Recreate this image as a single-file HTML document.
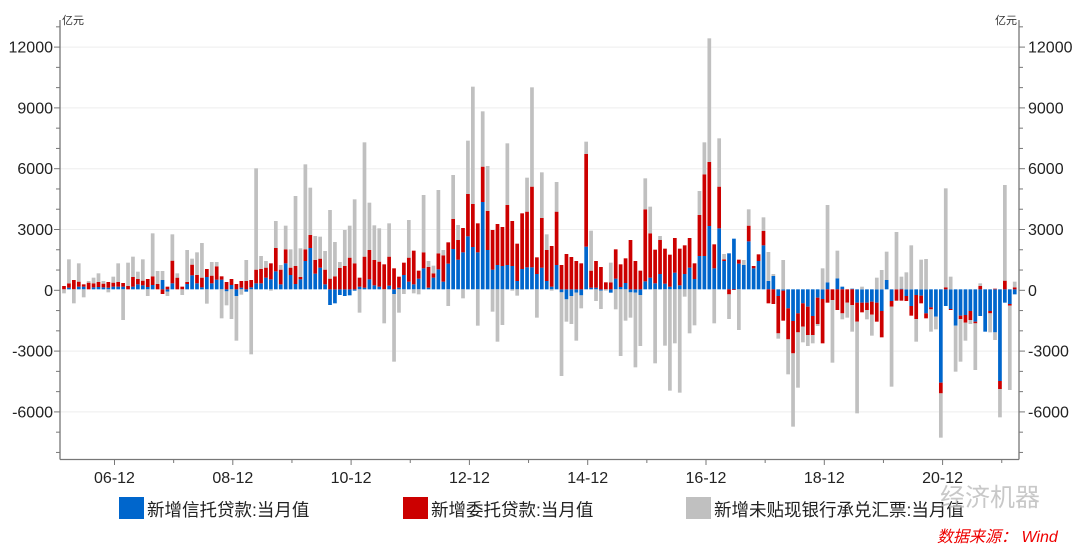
<!DOCTYPE html>
<html><head><meta charset="utf-8"><style>
html,body{margin:0;padding:0;background:#fff;}
svg{display:block;font-family:"Liberation Sans","Noto Sans CJK SC",sans-serif;}
</style></head><body>
<svg id="c" width="1080" height="545" viewBox="0 0 1080 545" xmlns="http://www.w3.org/2000/svg">
<g id="grid"></g><g id="bars"></g><g id="axes"></g>
<text x="62" y="24" font-size="11" fill="#333">亿元</text>
<text x="995" y="24" font-size="11" fill="#333">亿元</text>
<rect x="119" y="497" width="25" height="22" fill="#0066cc"/>
<text x="147" y="516" font-size="17.5" fill="#222">新增信托贷款:当月值</text>
<rect x="403" y="497" width="25" height="22" fill="#cc0000"/>
<text x="431" y="516" font-size="17.5" fill="#222">新增委托贷款:当月值</text>
<rect x="686" y="497" width="25" height="22" fill="#c0c0c0"/>
<text x="714" y="516" font-size="17.5" fill="#222">新增未贴现银行承兑汇票:当月值</text>
<text x="940" y="506" font-size="25" fill="#bbb" opacity="0.8">经济机器</text>
<text x="937" y="542" font-size="16" fill="#e00" font-style="italic">数据来源： Wind</text>
</svg>
<script>
var D=[[808,798,820],[803,790,718],[808,780,850],[800,785,730],[800,793,832],[808,788,783],[802,790,773],[801,786,760],[802,791,783],[803,786,817],[800,788,770],[800,786,730],[800,789,900],[808,798,728],[800,771,710],[793,777,755],[796,782,718],[801,777,828],[795,769,640],[808,792,753],[780,822,753],[815,800,828],[790,722,643],[808,773,760],[808,800,825],[792,786,690],[766,734,716],[790,765,697],[802,773,669],[771,747,851],[790,767,726],[779,739,726],[779,769,895],[814,786,856],[795,777,897],[828,792,962],[803,783,824],[815,783,720],[802,780,1003],[790,749,445],[790,747,708],[773,743,723],[778,730,812],[754,684,603],[793,749,735],[730,688,617],[765,743,688],[792,738,528],[778,771,685],[723,688,433],[684,645,503],[761,720,648],[743,716,650],[793,749,693],[855,776,570],[850,769,666],[825,744,726],[828,738,630],[826,713,617],[812,730,538],[800,773,878],[803,710,367],[778,690,548],[796,720,616],[800,725,625],[808,733,910],
[797,710,610],[822,745,1025],[803,770,878],[765,728,822],[785,713,600],[793,692,820],[776,752,823],[745,697,525],[803,741,723],[773,760,737],[748,700,510],[785,706,690],[731,667,858],[687,597,465],[719,660,615],[697,624,835],[649,522,362],[681,552,200],[697,610,917],[546,440,274],[690,573,438],[749,630,875],[735,612,965],[738,621,915],[735,555,370],[738,603,812],[783,671,827],[747,580,810],[742,575,473],[742,500,202],[762,712,893],[743,594,457],[783,690,643],[800,678,812],[735,575,486],[817,735,1068],[838,702,905],[828,711,912],[818,723,962],[826,730,865],[680,402,365],[803,752,632],[803,723,843],[812,741,867],[808,787,812],[818,787,728],[776,688,868],[801,733,1008],[789,715,902],[817,660,893],[818,723,1042],[825,752,978],[784,568,475],[773,640,560],[790,689,1030],[762,660,648],[791,686,977],[800,704,1112],[758,654,970],[796,686,1118],[762,676,830],[743,654,940],[777,730,916],[708,585,513],[708,463,367],[618,426,55],
[745,673,910],[625,500,355],[723,718,702],[700,823,897],[656,810,656],[731,719,930],[735,808,720],[664,617,568],[745,738,745],[723,703,703],[676,633,592],[783,850,696],[768,852,762],[828,940,956],[812,902,720],[865,958,1063],[903,1000,1220],[880,937,1103],[850,920,967],[860,945,978],[888,945,970],[833,912,918],[837,970,745],[787,848,555],[808,840,1028],[775,870,692],[800,880,898],[808,848,893],[806,855,935],[848,905,1180],[848,877,800],[848,870,898],[845,884,947],[848,905,773],[873,952,750],[780,780,695],[843,860,1100],[808,842,636],[806,842,770],[828,843,757],[858,887,676],[825,897,965],[827,850,719],[880,895,717],[862,868,935],[890,890,928],[1088,1120,1253],[858,802,505],[867,870,770],[917,917,1055],[887,897,1025],[885,908,962],[873,900,912],[905,910,1050],[888,798,790],[935,935,935],[873,880,937],[937,806,960],[1083,1107,1192],[848,782,495],[852,857,1110],[823,802,785]];
var NS="http://www.w3.org/2000/svg";
function el(p,t,a,txt){var e=document.createElementNS(NS,t);for(var k in a)e.setAttribute(k,a[k]);if(txt)e.textContent=txt;document.getElementById(p).appendChild(e);}
function Y(v){return 290.3-v*0.020267;}
[12000,9000,6000,3000,-3000,-6000].forEach(function(v){el('grid','line',{x1:60,x2:1019,y1:Y(v),y2:Y(v),stroke:'#eeeeee','stroke-width':1});});
var cols=['#0066cc','#cc0000','#c0c0c0'];
D.forEach(function(d,i){var x=64+i*4.926-1.85;var pt=808,nb=808;
 for(var j=0;j<3;j++){var e=d[j];
  if(e<808){if(e<pt){el('bars','rect',{x:x,y:20+e/3,width:3.7,height:(pt-e)/3,fill:cols[j]});pt=e;}}
  else if(e>808){if(e>nb){el('bars','rect',{x:x,y:20+nb/3,width:3.7,height:(e-nb)/3,fill:cols[j]});nb=e;}}
 }});
el('axes','line',{x1:60,x2:60,y1:20,y2:459.5,stroke:'#777','stroke-width':1.3});
el('axes','line',{x1:1019,x2:1019,y1:20,y2:459.5,stroke:'#777','stroke-width':1.3});
el('axes','line',{x1:60,x2:1019,y1:459.5,y2:459.5,stroke:'#777','stroke-width':1.3});
for(var v=-8000;v<=13000;v+=1000){var y=Y(v);if(y<22||y>458)continue;var big=(v%3000==0);
 el('axes','line',{x1:big?54:56,x2:60,y1:y,y2:y,stroke:'#777','stroke-width':1});
 el('axes','line',{x1:1019,x2:big?1025:1023,y1:y,y2:y,stroke:'#777','stroke-width':1});
 if(big){el('axes','text',{x:53,y:y+5.5,'font-size':16,'text-anchor':'end',fill:'#222'},String(v));
  el('axes','text',{x:1028,y:y+5.5,'font-size':16,fill:'#222'},String(v));}}
var labs=['06-12','08-12','10-12','12-12','14-12','16-12','18-12','20-12'];
for(var k=0;k<16;k++){var x=114.5+k*59.15;var big=(k%2==0);
 el('axes','line',{x1:x,x2:x,y1:459.5,y2:big?465:463,stroke:'#777','stroke-width':1});
 if(big)el('axes','text',{x:x,y:483,'font-size':16,'text-anchor':'middle',fill:'#222'},labs[k/2]);}
</script>
</body></html>
